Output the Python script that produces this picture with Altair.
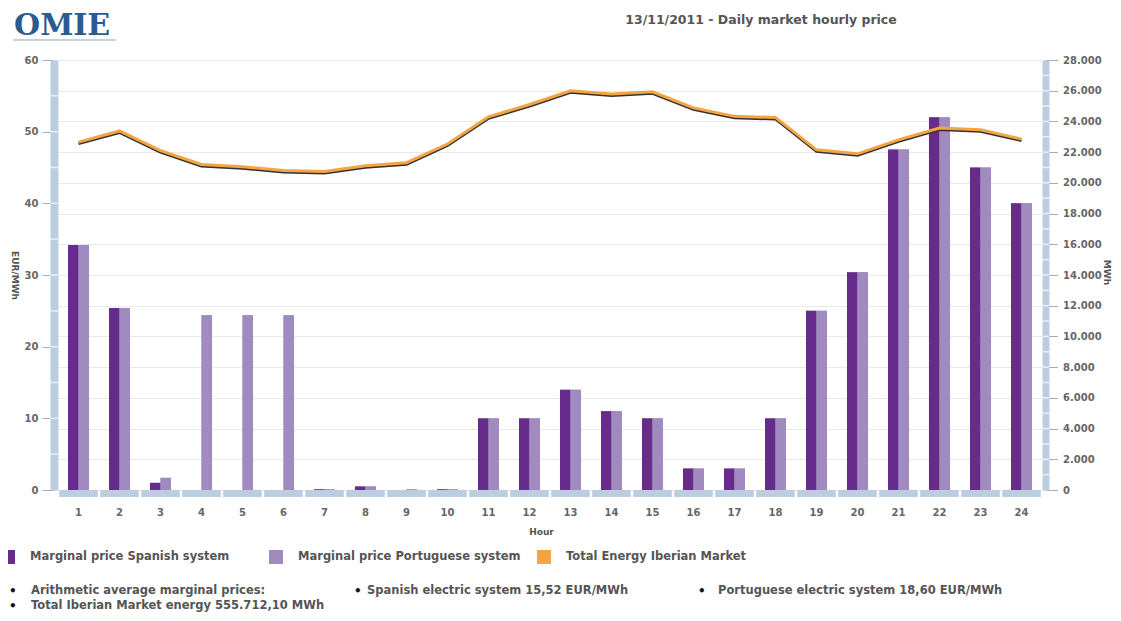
import altair as alt
import pandas as pd

# ---------------- data ----------------
HOURS = list(range(1, 25))
SPAIN = [34.2, 25.4, 1.0, 0.0, 0.0, 0.0, 0.1, 0.5, 0.0, 0.1, 10.0, 10.0,
         14.0, 11.0, 10.0, 3.0, 3.0, 10.0, 25.0, 30.4, 47.5, 52.0, 45.0, 40.0]
PORTUGAL = [34.2, 25.4, 1.7, 24.4, 24.4, 24.4, 0.1, 0.5, 0.1, 0.1, 10.0, 10.0,
            14.0, 11.0, 10.0, 3.0, 3.0, 10.0, 25.0, 30.4, 47.5, 52.0, 45.0, 40.0]
ENERGY = [22650, 23380, 22100, 21200, 21050, 20800, 20740, 21120, 21310, 22530,
          24300, 25100, 26000, 25780, 25930, 24880, 24330, 24260, 22150, 21890,
          22800, 23570, 23460, 22850]
SERIES = ["Marginal price Spanish system", "Marginal price Portuguese system",
          "Total Energy Iberian Market"]
COLORS = ["#662b8b", "#a08abf", "#f5a445"]
LEFT_TICKS = [0, 10, 20, 30, 40, 50, 60]
LEFT_SEGMENTS = [5, 10, 15, 20, 25, 30, 35, 40, 45, 50, 55]
RIGHT_TICKS = list(range(0, 28001, 2000))
RIGHT_SEGMENTS = list(range(1000, 28000, 1000))

TITLE = "13/11/2011 - Daily market hourly price"
LOGO = "OMIE"
NOTES_ROW1 = ["Arithmetic average marginal prices:",
              "Spanish electric system 15,52 EUR/MWh",
              "Portuguese electric system 18,60 EUR/MWh"]
NOTES_ROW2 = ["Total Iberian Market energy 555.712,10 MWh"]

FONT = "DejaVu Sans"
AXIS_BLUE = "#bccddf"
W, H = 984, 430

bars_df = pd.DataFrame({
    "hour": HOURS * 2,
    "series": [SERIES[0]] * len(HOURS) + [SERIES[1]] * len(HOURS),
    "price": SPAIN + PORTUGAL,
})
line_df = pd.DataFrame({"hour": HOURS, "energy": ENERGY})
hours_df = pd.DataFrame({"hour": HOURS})

x_enc = alt.X(
    "hour:O",
    scale=alt.Scale(paddingInner=0, paddingOuter=0),
    axis=alt.Axis(domain=False, ticks=False, tickSize=0, labelAngle=0,
                  labelFont=FONT, labelFontWeight="bold", labelFontSize=10,
                  labelColor="#666", labelPadding=17,
                  title="Hour", titleFont=FONT, titleFontSize=9,
                  titleFontWeight="bold", titleColor="#555",
                  titleX=483, titleY=41, titleBaseline="middle"),
)

y_left = alt.Y(
    "price:Q",
    scale=alt.Scale(domain=[0, 60], nice=False, zero=True),
    axis=alt.Axis(values=LEFT_TICKS, orient="left", offset=4, grid=False,
                  domainWidth=8, domainColor=AXIS_BLUE,
                  tickSize=12, tickColor="#aaaaaa", tickWidth=1,
                  labelFont=FONT, labelFontWeight="bold", labelFontSize=10,
                  labelColor="#666", labelPadding=4,
                  title="EUR/MWh", titleAngle=90, titleX=-40, titleY=215,
                  titleAlign="center", titleBaseline="middle",
                  titleFont=FONT, titleFontSize=9, titleFontWeight="bold",
                  titleColor="#555"),
)

y_right = alt.Y(
    "energy:Q",
    scale=alt.Scale(domain=[0, 28000], nice=False, zero=True),
    axis=alt.Axis(values=RIGHT_TICKS, orient="right", offset=3.5, grid=True,
                  gridColor="#e9e9e9", gridWidth=1,
                  domainWidth=7, domainColor=AXIS_BLUE,
                  tickSize=12, tickColor="#aaaaaa", tickWidth=1,
                  labelFont=FONT, labelFontWeight="bold", labelFontSize=10,
                  labelColor="#666", labelPadding=5,
                  labelExpr="replace(format(datum.value, ','), ',', '.')",
                  title="MWh", titleAngle=90, titleX=61, titleY=212,
                  titleAlign="center", titleBaseline="middle",
                  titleFont=FONT, titleFontSize=9, titleFontWeight="bold",
                  titleColor="#555"),
)

x_off = alt.XOffset("series:N", sort=SERIES[:2],
                    scale=alt.Scale(domain=SERIES[:2], paddingInner=0,
                                    paddingOuter=0.95))

band = alt.Chart(hours_df).mark_bar(
    color=AXIS_BLUE, width=alt.RelativeBandSize(0.94)
).encode(x=x_enc, y=alt.value(H), y2=alt.value(H + 7))

shadow = alt.Chart(bars_df).mark_bar(
    color="#555555", opacity=0.55, xOffset=2.5, x2Offset=2.5
).encode(x=x_enc, xOffset=x_off, y=y_left)

bars = alt.Chart(bars_df).mark_bar().encode(
    x=x_enc, xOffset=x_off, y=y_left,
    color=alt.Color(
        "series:N",
        scale=alt.Scale(domain=SERIES, range=COLORS),
        legend=alt.Legend(orient="none", legendX=-57, legendY=490,
                          direction="horizontal", columns=3, gridAlign="all",
                          symbolType="square", symbolSize=196,
                          symbolStrokeWidth=0, labelFont=FONT,
                          labelFontWeight="bold", labelFontSize=11.5,
                          labelColor="#555", labelOffset=15,
                          columnPadding=16, labelLimit=400, title=None),
    ),
)

lseg = alt.Chart(pd.DataFrame({"price": LEFT_SEGMENTS})).mark_tick(
    color="white", thickness=1.5, size=8
).encode(y=y_left, x=alt.value(-4))

left = alt.layer(band, shadow, bars, lseg)

line_shadow = alt.Chart(line_df).mark_line(
    color="#333333", strokeWidth=3, yOffset=1.5
).encode(x=x_enc, y=y_right)
line = alt.Chart(line_df).mark_line(color=COLORS[2], strokeWidth=3).encode(
    x=x_enc, y=y_right)
rseg = alt.Chart(pd.DataFrame({"energy": RIGHT_SEGMENTS})).mark_tick(
    color="white", thickness=1.5, size=7
).encode(y=y_right, x=alt.value(W + 3.5))

right = alt.layer(line_shadow, line, rseg)


def note(text, x, y, size=11.5, weight="bold", color="#555", font=FONT,
         align="left"):
    return alt.Chart(alt.Data(values=[{}])).mark_text(
        font=font, fontSize=size, fontWeight=weight, color=color,
        align=align, baseline="middle"
    ).encode(x=alt.value(x), y=alt.value(y), text=alt.value(text))


annots = [
    note(TITLE, 703, -40, size=12.5, color="#555", align="center"),
    note(LOGO, -44, -34, size=30, color="#2a5a8f", font="DejaVu Serif"),
    alt.Chart(alt.Data(values=[{}])).mark_rule(color="#8ea3bb", strokeWidth=1)
    .encode(x=alt.value(-45), x2=alt.value(58), y=alt.value(-20)),
]
row1_x = [(-49, -27), (296, 309), (640, 660)]
for (bx, tx), txt in zip(row1_x, NOTES_ROW1):
    annots.append(note("\u2022", bx, 531, size=12, color="#111"))
    annots.append(note(txt, tx, 531))
for txt in NOTES_ROW2:
    annots.append(note("\u2022", -49, 546, size=12, color="#111"))
    annots.append(note(txt, -27, 546))

chart = alt.layer(
    alt.layer(left, right).resolve_scale(y="independent"),
    *annots
).properties(
    width=W, height=H,
    autosize=alt.AutoSizeParams(type="none"),
    padding={"left": 50, "top": 52, "right": 71, "bottom": 123},
    background="white",
).configure_view(strokeWidth=0)

chart.save("out.html", embed_options={"renderer": "svg", "actions": False})
